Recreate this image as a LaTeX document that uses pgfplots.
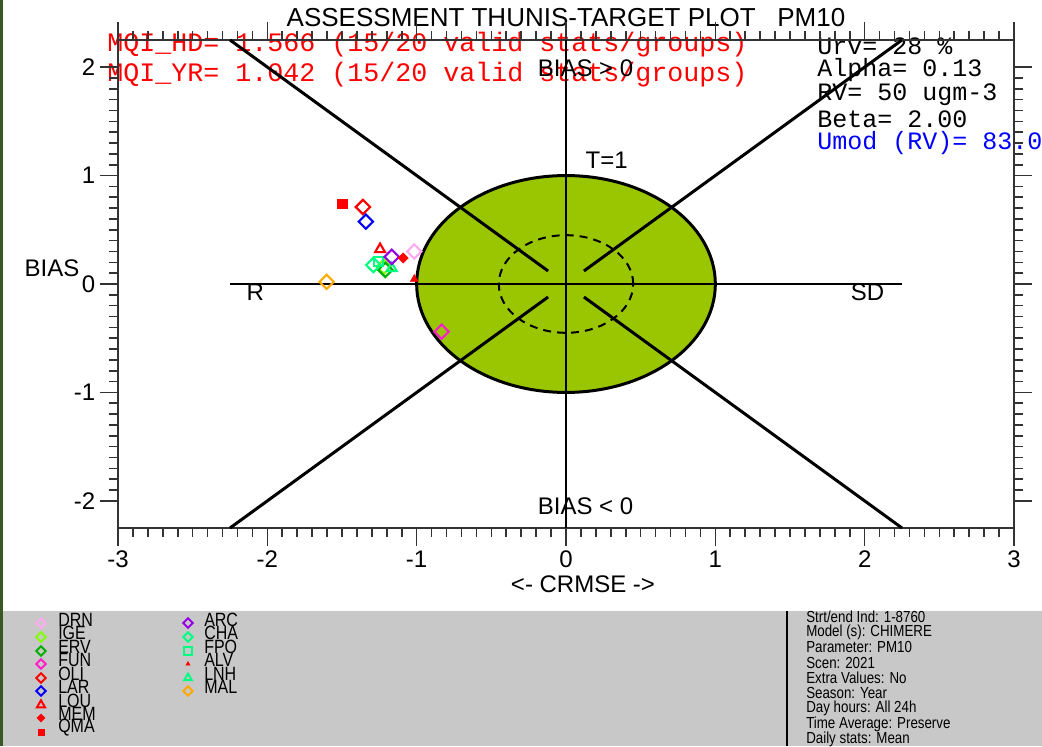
\documentclass[border=0pt]{standalone}
\usepackage{fontspec}
\setmainfont{Liberation Sans}
\newfontfamily\hershey{Liberation Mono}
\usepackage{pgfplots}
\pgfplotsset{compat=1.18}

\definecolor{tgreen}{RGB}{153,198,0}
\definecolor{panelgray}{RGB}{200,200,200}
\definecolor{bordergreen}{RGB}{58,88,38}
\definecolor{cDRN}{RGB}{255,170,240}
\definecolor{cIGE}{RGB}{128,255,0}
\definecolor{cERV}{RGB}{0,176,0}
\definecolor{cFUN}{RGB}{255,30,200}
\definecolor{cARC}{RGB}{150,0,230}
\definecolor{cCHA}{RGB}{0,255,128}
\definecolor{cMAL}{RGB}{255,170,0}

% marker styles: big ones in the target, small ones in the legend panel
\pgfplotsset{
  dia/.style={only marks, color=#1, mark=square, mark size=3.8pt, mark options={rotate=45, line width=1.6pt}},
  ldia/.style={only marks, color=#1, mark=square, mark size=2.5pt, mark options={rotate=45, line width=1.5pt}},
}
\newcommand\tall[1]{\scalebox{1}[1.2]{#1}}

\begin{document}
\begin{tikzpicture}
\path[use as bounding box] (0,0) rectangle (781.5pt,559.5pt);
\clip (0,0) rectangle (781.5pt,559.5pt);

% background, bottom panel, left border (1 unit = 1 px)
\begin{scope}[x=0.75pt, y=0.75pt]
  \fill[white] (0,0) rectangle (1042,746);
  \fill[panelgray] (0,0) rectangle (1042,135);
  \fill[bordergreen] (0,0) rectangle (3,746);
  \draw[black, line width=1.5pt] (787,0) -- (787,135);

  \node[font=\fontsize{19.5}{22}\selectfont] at (566,728) {ASSESSMENT THUNIS-TARGET PLOT\ \ \ PM10};
  \begin{scope}[every node/.style={anchor=west, inner sep=0pt}]
    \node[text=red, font=\hershey\fontsize{20}{20}\selectfont] at (107,701) {MQI\_HD= 1.566 (15/20 valid stats/groups)};
    \node[text=red, font=\hershey\fontsize{20}{20}\selectfont] at (107,671) {MQI\_YR= 1.042 (15/20 valid stats/groups)};
    \node[font=\hershey\fontsize{18.75}{20}\selectfont] at (817,700) {Urv= 28 \%};
    \node[font=\hershey\fontsize{18.75}{20}\selectfont] at (817,676) {Alpha= 0.13};
    \node[font=\hershey\fontsize{18.75}{20}\selectfont] at (817,651) {RV= 50 ugm-3};
    \node[font=\hershey\fontsize{18.75}{20}\selectfont] at (817,627) {Beta= 2.00};
    \node[text=blue, font=\hershey\fontsize{18.75}{20}\selectfont] at (817,603) {Umod (RV)= 83.0 \%};
  \end{scope}

  \node[font=\fontsize{18}{20}\selectfont] at (52,478) {BIAS};
  \node[font=\fontsize{18}{20}\selectfont] at (583,162) {<- CRMSE ->};

  \begin{scope}[font=\fontsize{10}{11}\selectfont, every node/.style={anchor=west, inner sep=0pt}]
    \node at (806,129) {\tall{Strt/end Ind: 1-8760}};
    \node at (806,114) {\tall{Model (s): CHIMERE}};
    \node at (806,99) {\tall{Parameter: PM10}};
    \node at (806,83) {\tall{Scen: 2021}};
    \node at (806,68) {\tall{Extra Values: No}};
    \node at (806,53) {\tall{Season: Year}};
    \node at (806,38) {\tall{Day hours: All 24h}};
    \node at (806,22) {\tall{Time Average: Preserve}};
    \node at (806,7) {\tall{Daily stats: Mean}};
  \end{scope}
\end{scope}

\begin{axis}[
  at={(88.5pt,163.5pt)}, anchor=south west,
  scale only axis, width=672pt, height=366pt,
  xmin=-3, xmax=3, ymin=-2.25, ymax=2.25,
  xtick={-3,-2,-1,0,1,2,3}, xticklabels={-3,-2,-1,0,1,2,3},
  ytick={-2,-1,0,1,2}, yticklabels={-2,-1,0,1,2},
  minor tick num=9,
  tick align=outside,
  major tick length=13.5pt, minor tick length=6.75pt,
  axis line style={line width=1.2pt, black!80},
  tick style={line width=1.2pt, black!80},
  tick label style={font=\fontsize{18}{20}\selectfont},
  clip=false,
]
% target circle, inner dashed circle, guide lines
\draw[fill=tgreen, line width=2.25pt] (axis cs:0,0) ellipse [x radius=1, y radius=1];
\draw[line width=1.5pt, dash pattern=on 6pt off 4.5pt] (axis cs:0,0) ellipse [x radius=0.45, y radius=0.45];
\draw[line width=1.5pt] (axis cs:-2.25,0) -- (axis cs:2.25,0);
\draw[line width=1.1pt] (axis cs:0,-2.25) -- (axis cs:0,2.25);
\draw[line width=2.25pt] (axis cs:-2.25,2.25) -- (axis cs:-0.12,0.12);
\draw[line width=2.25pt] (axis cs:2.25,2.25) -- (axis cs:0.12,0.12);
\draw[line width=2.25pt] (axis cs:-2.25,-2.25) -- (axis cs:-0.12,-0.12);
\draw[line width=2.25pt] (axis cs:2.25,-2.25) -- (axis cs:0.12,-0.12);

\node[font=\fontsize{18}{20}\selectfont, anchor=west] at (axis cs:-0.22,1.99) {BIAS > 0};
\node[font=\fontsize{18}{20}\selectfont, anchor=west] at (axis cs:-0.22,-2.05) {BIAS < 0};
\node[font=\fontsize{18}{20}\selectfont, anchor=west] at (axis cs:0.1,1.14) {T=1};
\node[font=\fontsize{18}{20}\selectfont] at (axis cs:-2.08,-0.08) {R};
\node[font=\fontsize{18}{20}\selectfont] at (axis cs:2.02,-0.08) {SD};

% stations
\addplot[dia=cIGE] coordinates {(-1.22,0.16)};
\addplot[dia=cERV] coordinates {(-1.21,0.13)};
\addplot[dia=cCHA] coordinates {(-1.29,0.175)};
\addplot[only marks, color=cCHA, mark=square, mark size=3.4pt, line width=1.6pt] coordinates {(-1.257,0.205)};
\addplot[only marks, color=cCHA, mark=triangle, mark size=4.3pt, line width=1.6pt] coordinates {(-1.167,0.145)};
\addplot[only marks, color=red, mark=triangle, mark size=4.3pt, line width=1.6pt] coordinates {(-1.245,0.32)};
\addplot[dia=cARC] coordinates {(-1.167,0.25)};
\addplot[only marks, color=red, mark=square*, mark size=2.7pt, mark options={rotate=45}] coordinates {(-1.09,0.24)};
\addplot[dia=cDRN] coordinates {(-1.016,0.30)};
\addplot[dia=red] coordinates {(-1.36,0.71)};
\addplot[dia=blue] coordinates {(-1.34,0.575)};
\addplot[only marks, color=red, mark=square*, mark size=3.6pt] coordinates {(-1.50,0.74)};
\addplot[dia=cMAL] coordinates {(-1.603,0.02)};
\addplot[only marks, color=red, mark=triangle*, mark size=3.4pt] coordinates {(-1.016,0.045)};
\addplot[dia=cFUN] coordinates {(-0.833,-0.44)};
\end{axis}

% legend panel, axis units = px
\begin{axis}[
  at={(0pt,0pt)}, anchor=south west,
  scale only axis, width=781.5pt, height=101.25pt,
  xmin=0, xmax=1042, ymin=0, ymax=135,
  hide axis, clip=false,
]
\addplot[ldia=cDRN] coordinates {(41,123)};
\addplot[ldia=cIGE] coordinates {(41,109)};
\addplot[ldia=cERV] coordinates {(41,95)};
\addplot[ldia=cFUN] coordinates {(41,82)};
\addplot[ldia=red] coordinates {(41,68)};
\addplot[ldia=blue] coordinates {(41,55)};
\addplot[only marks, color=red, mark=triangle, mark size=3.5pt, line width=1.5pt] coordinates {(41,41)};
\addplot[only marks, color=red, mark=square*, mark size=2.1pt, mark options={rotate=45}] coordinates {(41,28)};
\addplot[only marks, color=red, mark=square*, mark size=2.2pt] coordinates {(41,14)};
\addplot[ldia=cARC] coordinates {(188,123)};
\addplot[ldia=cCHA] coordinates {(188,109)};
\addplot[only marks, color=cCHA, mark=square, mark size=2.8pt, line width=1.5pt] coordinates {(188,95)};
\addplot[only marks, color=red, mark=triangle*, mark size=1.8pt] coordinates {(188,82)};
\addplot[only marks, color=cCHA, mark=triangle, mark size=3.3pt, line width=1.5pt] coordinates {(188,68)};
\addplot[ldia=cMAL] coordinates {(188,55)};

\begin{scope}[font=\fontsize{12}{12}\selectfont, every node/.style={anchor=west, inner sep=0pt}]
  \node at (axis cs:58,126.5) {\tall{DRN}};
  \node at (axis cs:58,113) {\tall{IGE}};
  \node at (axis cs:58,99.5) {\tall{ERV}};
  \node at (axis cs:58,86) {\tall{FUN}};
  \node at (axis cs:58,72.5) {\tall{OLI}};
  \node at (axis cs:58,59) {\tall{LAR}};
  \node at (axis cs:58,45.5) {\tall{LOU}};
  \node at (axis cs:58,32) {\tall{MEM}};
  \node at (axis cs:58,18.5) {\tall{QMA}};
  \node at (axis cs:204,126.5) {\tall{ARC}};
  \node at (axis cs:204,113) {\tall{CHA}};
  \node at (axis cs:204,99.5) {\tall{FPO}};
  \node at (axis cs:204,86) {\tall{ALV}};
  \node at (axis cs:204,72.5) {\tall{LNH}};
  \node at (axis cs:204,59) {\tall{MAL}};
\end{scope}
\end{axis}
\end{tikzpicture}
\end{document}
